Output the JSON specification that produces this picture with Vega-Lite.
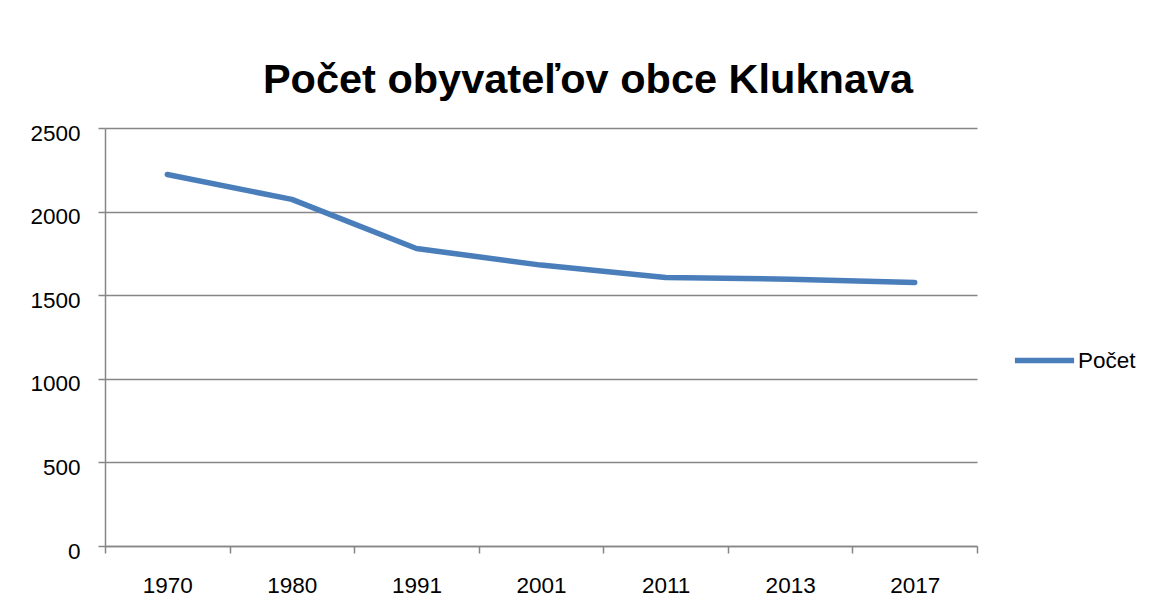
{
  "$schema": "https://vega.github.io/schema/vega-lite/v6.json",
  "autosize": "none",
  "width": 872,
  "height": 418,
  "padding": {"left": 105, "top": 128, "right": 175, "bottom": 60},
  "background": "white",
  "title": {
    "text": "Počet obyvateľov obce Kluknava",
    "font": "Liberation Sans",
    "fontSize": 41.5,
    "fontWeight": "bold",
    "color": "black",
    "anchor": "middle",
    "baseline": "alphabetic",
    "offset": -12,
    "dx": 47
  },
  "data": {
    "values": [
      {"rok": "1970", "pocet": 2222, "serie": "Počet"},
      {"rok": "1980", "pocet": 2073, "serie": "Počet"},
      {"rok": "1991", "pocet": 1779, "serie": "Počet"},
      {"rok": "2001", "pocet": 1680, "serie": "Počet"},
      {"rok": "2011", "pocet": 1606, "serie": "Počet"},
      {"rok": "2013", "pocet": 1596, "serie": "Počet"},
      {"rok": "2017", "pocet": 1576, "serie": "Počet"}
    ]
  },
  "mark": {"type": "line", "strokeWidth": 5.5, "strokeCap": "round", "strokeJoin": "round"},
  "encoding": {
    "x": {
      "field": "rok",
      "type": "ordinal",
      "sort": null,
      "scale": {"type": "band", "paddingInner": 0, "paddingOuter": 0},
      "axis": {
        "title": null,
        "labelAngle": 0,
        "tickBand": "extent",
        "domainColor": "#868686",
        "domainWidth": 1.5,
        "tickColor": "#868686",
        "tickWidth": 1.5,
        "tickSize": 7,
        "labelFont": "Liberation Sans",
        "labelFontSize": 22.5,
        "labelColor": "black",
        "labelPadding": 21,
        "grid": false
      }
    },
    "y": {
      "field": "pocet",
      "type": "quantitative",
      "scale": {"domain": [0, 2500], "nice": false},
      "axis": {
        "title": null,
        "format": "d",
        "values": [0, 500, 1000, 1500, 2000, 2500],
        "grid": true,
        "gridColor": "#868686",
        "gridWidth": 1.5,
        "domainColor": "#868686",
        "domainWidth": 1.5,
        "tickColor": "#868686",
        "tickWidth": 1.5,
        "tickSize": 7,
        "labelFont": "Liberation Sans",
        "labelFontSize": 22.5,
        "labelColor": "black",
        "labelPadding": 18,
        "labelOffset": 5
      }
    },
    "color": {
      "field": "serie",
      "type": "nominal",
      "scale": {"domain": ["Počet"], "range": ["#4a7ebb"]},
      "legend": {
        "title": null,
        "orient": "none",
        "legendX": 907,
        "legendY": 200,
        "symbolType": "stroke",
        "symbolSize": 3500,
        "symbolStrokeWidth": 5.5,
        "labelFont": "Liberation Sans",
        "labelFontSize": 22.5,
        "labelColor": "black",
        "labelOffset": 1
      }
    }
  },
  "config": {
    "view": {"stroke": null},
    "axis": {"gridCap": "butt"}
  }
}
